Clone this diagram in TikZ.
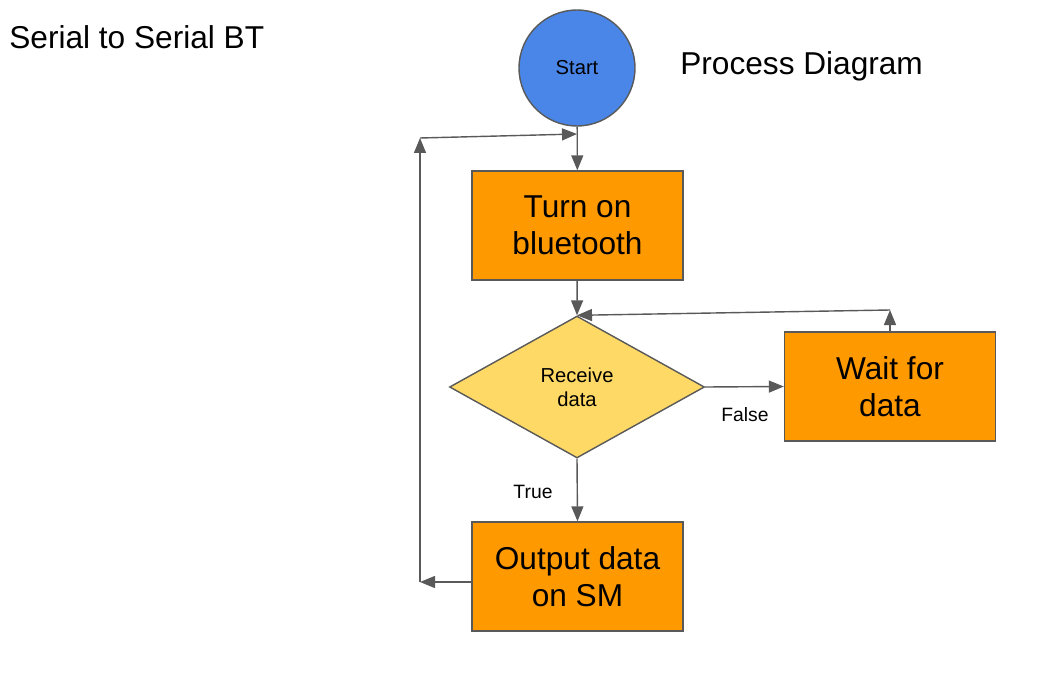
\documentclass[tikz,border=0pt]{standalone}
\usepackage{fontspec}
\setmainfont{Liberation Sans}
\usetikzlibrary{arrows.meta, shapes.geometric}
\definecolor{boxorange}{HTML}{FF9900}
\definecolor{diayellow}{HTML}{FFD966}
\definecolor{startblue}{HTML}{4A86E8}
\definecolor{edgegray}{HTML}{595959}

\begin{document}
\begin{tikzpicture}[x=0.02cm, y=-0.02cm,
  procbox/.style={draw=edgegray, line width=0.8pt, fill=boxorange, minimum width=4.22cm, minimum height=2.18cm, inner sep=0pt, align=center, text depth=0pt, font=\fontsize{18}{21}\selectfont},
  decide/.style={diamond, draw=edgegray, line width=0.8pt, fill=diayellow, minimum width=5.1cm, minimum height=2.84cm, inner sep=0pt, align=center, font=\fontsize{11.5}{13.7}\selectfont},
  flow/.style={draw=edgegray, line width=0.8pt, -{Triangle[length=0.3cm, width=0.24cm]}},
  lbl/.style={inner sep=0pt, font=\fontsize{11}{13}\selectfont}]
\useasboundingbox (0,0) rectangle (1047,696);
\node[circle, draw=edgegray, line width=0.8pt, fill=startblue, minimum size=2.32cm, inner sep=0pt, font=\fontsize{11.5}{13.7}\selectfont] (start) at (577,68) {Start};
\node[procbox] (bton) at (577.5,225.5) {Turn on\\bluetooth};
\node[decide] (recv) at (577,387) {Receive\\data};
\node[procbox] (wait) at (890,386.5) {Wait for\\data};
\node[procbox] (out) at (577.5,576.5) {Output data\\on SM};
\coordinate (L1) at (420,582);
\coordinate (L2) at (420,138);
\coordinate (T1) at (577,134);
\coordinate (W1) at (890,310);
\draw[flow] (start) -- (bton);
\draw[flow] (bton) -- (recv.north);
\draw[flow] (recv.east) -- (wait.west);
\draw[flow] (recv.south) -- (out.north);
\draw[flow] (wait.north) -- (W1);
\draw[flow] (W1) -- (recv.north);
\draw[flow] (out.west |- L1) -- (L1);
\draw[flow] (L1) -- (L2);
\draw[flow] (L2) -- (T1);
\node[lbl] (true) at (533,492) {True};
\node[lbl] (false) at (745,415) {False};
\node[anchor=west, inner sep=0pt, font=\fontsize{18}{21}\selectfont] (title) at (9,37) {Serial to Serial BT};
\node[anchor=west, inner sep=0pt, font=\fontsize{18}{21}\selectfont] (kind) at (680,66) {Process Diagram};
\end{tikzpicture}
\end{document}
